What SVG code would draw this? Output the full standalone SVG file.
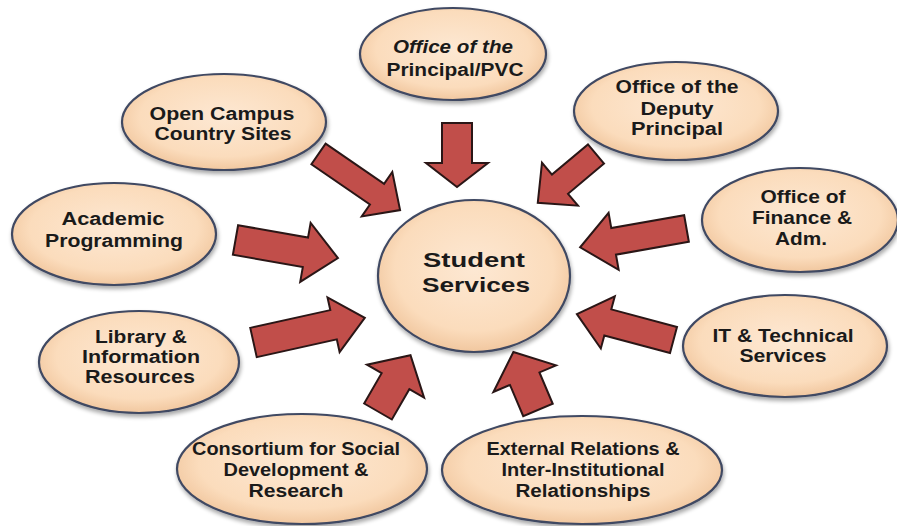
<svg xmlns="http://www.w3.org/2000/svg" width="897" height="526" viewBox="0 0 897 526">
<defs>
<radialGradient id="peach" cx="50%" cy="45%" r="55%">
<stop offset="0" stop-color="#fde8d3"/>
<stop offset="0.75" stop-color="#fbdcbc"/>
<stop offset="1" stop-color="#f1c79f"/>
</radialGradient>
<filter id="sh" x="-10%" y="-10%" width="125%" height="130%">
<feGaussianBlur in="SourceAlpha" stdDeviation="2"/>
<feOffset dx="1" dy="3" result="b"/>
<feComponentTransfer><feFuncA type="linear" slope="0.35"/></feComponentTransfer>
<feMerge><feMergeNode/><feMergeNode in="SourceGraphic"/></feMerge>
</filter>
</defs>
<style>
.n{fill:url(#peach);stroke:#3f4862;stroke-width:2.2;filter:url(#sh)}
.t{font-family:"Liberation Sans",Arial,sans-serif;font-weight:bold;font-size:17.5px;fill:#1a1a1a;text-anchor:middle}
.c{font-size:21px}
.i{font-style:italic}
.a{fill:#c14e4a;stroke:#2a1616;stroke-width:2;stroke-linejoin:miter}
</style>
<rect width="897" height="526" fill="#ffffff"/>
<g id="connectors">
<polygon class="a" transform="translate(457,123) rotate(90)" points="0,-15 40,-15 40,-31 64,0 40,31 40,15 0,15"/>
<polygon class="a" transform="translate(318.5,154) rotate(34.5)" points="0,-12.5 71,-12.5 71,-27 99,0 71,27 71,12.5 0,12.5"/>
<polygon class="a" transform="translate(596,154) rotate(140)" points="0,-12.5 47,-12.5 47,-28 76,0 47,28 47,12.5 0,12.5"/>
<polygon class="a" transform="translate(686.5,228.5) rotate(170)" points="0,-13.5 74,-13.5 74,-29 108,0 74,29 74,13.5 0,13.5"/>
<polygon class="a" transform="translate(235.5,240) rotate(10)" points="0,-15 71,-15 71,-30 104,0 71,30 71,15 0,15"/>
<polygon class="a" transform="translate(253.5,342.5) rotate(-12.5)" points="0,-15 82,-15 82,-28 114,0 82,28 82,15 0,15"/>
<polygon class="a" transform="translate(673.5,340) rotate(195)" points="0,-13.5 68,-13.5 68,-27 100,0 68,27 68,13.5 0,13.5"/>
<polygon class="a" transform="translate(378,411.5) rotate(-60)" points="0,-16 35,-16 35,-33 65,0 35,33 35,16 0,16"/>
<polygon class="a" transform="translate(538,410) rotate(-113)" points="0,-16 34,-16 34,-34 63,0 34,34 34,16 0,16"/>
</g>
<g id="student-services">
<ellipse class="n" cx="474" cy="276" rx="96" ry="76"/>
<text class="t c" x="474" y="267" textLength="102" lengthAdjust="spacingAndGlyphs">Student</text>
<text class="t c" x="476" y="292" textLength="108" lengthAdjust="spacingAndGlyphs">Services</text>
</g>
<g id="principal">
<ellipse class="n" cx="453" cy="54" rx="93" ry="46"/>
<text class="t i" x="453" y="53" textLength="120" lengthAdjust="spacingAndGlyphs">Office of the</text>
<text class="t" x="455" y="76" textLength="137" lengthAdjust="spacingAndGlyphs">Principal/PVC</text>
</g>
<g id="open-campus">
<ellipse class="n" cx="224" cy="122" rx="102" ry="48"/>
<text class="t" x="222" y="120" textLength="145" lengthAdjust="spacingAndGlyphs">Open Campus</text>
<text class="t" x="223" y="140" textLength="137" lengthAdjust="spacingAndGlyphs">Country Sites</text>
</g>
<g id="deputy-principal">
<ellipse class="n" cx="676" cy="111" rx="102" ry="49"/>
<text class="t" x="677" y="93" textLength="123" lengthAdjust="spacingAndGlyphs">Office of the</text>
<text class="t" x="677" y="115" textLength="73" lengthAdjust="spacingAndGlyphs">Deputy</text>
<text class="t" x="677" y="135" textLength="92" lengthAdjust="spacingAndGlyphs">Principal</text>
</g>
<g id="finance">
<ellipse class="n" cx="800" cy="220" rx="98" ry="52"/>
<text class="t" x="803" y="203" textLength="85" lengthAdjust="spacingAndGlyphs">Office of</text>
<text class="t" x="802" y="224" textLength="100" lengthAdjust="spacingAndGlyphs">Finance &amp;</text>
<text class="t" x="801" y="245" textLength="52" lengthAdjust="spacingAndGlyphs">Adm.</text>
</g>
<g id="academic">
<ellipse class="n" cx="114" cy="234" rx="102" ry="51"/>
<text class="t" x="113" y="225" textLength="103" lengthAdjust="spacingAndGlyphs">Academic</text>
<text class="t" x="114" y="247" textLength="138" lengthAdjust="spacingAndGlyphs">Programming</text>
</g>
<g id="library">
<ellipse class="n" cx="139" cy="362" rx="100" ry="51"/>
<text class="t" x="141" y="343" textLength="92" lengthAdjust="spacingAndGlyphs">Library &amp;</text>
<text class="t" x="141" y="363" textLength="118" lengthAdjust="spacingAndGlyphs">Information</text>
<text class="t" x="140" y="383" textLength="110" lengthAdjust="spacingAndGlyphs">Resources</text>
</g>
<g id="it-services">
<ellipse class="n" cx="785" cy="346" rx="102" ry="51"/>
<text class="t" x="783" y="342" textLength="141" lengthAdjust="spacingAndGlyphs">IT &amp; Technical</text>
<text class="t" x="783" y="362" textLength="87" lengthAdjust="spacingAndGlyphs">Services</text>
</g>
<g id="consortium">
<ellipse class="n" cx="302" cy="469" rx="125" ry="55"/>
<text class="t" x="296" y="455" textLength="208" lengthAdjust="spacingAndGlyphs">Consortium for Social</text>
<text class="t" x="296" y="476" textLength="145" lengthAdjust="spacingAndGlyphs">Development &amp;</text>
<text class="t" x="296" y="497" textLength="95" lengthAdjust="spacingAndGlyphs">Research</text>
</g>
<g id="external-relations">
<ellipse class="n" cx="582" cy="470" rx="140" ry="54"/>
<text class="t" x="583" y="455" textLength="193" lengthAdjust="spacingAndGlyphs">External Relations &amp;</text>
<text class="t" x="583" y="476" textLength="163" lengthAdjust="spacingAndGlyphs">Inter-Institutional</text>
<text class="t" x="583" y="497" textLength="135" lengthAdjust="spacingAndGlyphs">Relationships</text>
</g>
</svg>
